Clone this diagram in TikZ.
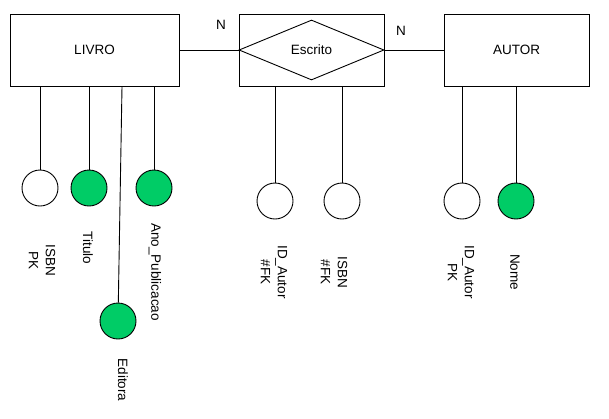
\documentclass[tikz,border=0pt]{standalone}
\usepackage{fontspec}
\setmainfont{Liberation Sans}
\usepackage{tikz}
\usetikzlibrary{shapes.geometric}
\definecolor{attrgreen}{RGB}{0,204,102}

\begin{document}
\begin{tikzpicture}[x=1pt,y=-1pt,line width=0.9pt,
  every node/.style={font=\fontsize{13.5}{17}\selectfont},
  entity/.style={shape=rectangle,minimum height=72pt,inner sep=0pt,draw},
  attrkey/.style={shape=circle,minimum size=36pt,inner sep=0pt,draw,fill=white},
  attrplain/.style={shape=circle,minimum size=36pt,inner sep=0pt,draw,fill=attrgreen},
  attrlabel/.style={rotate=-90,align=center,inner sep=0pt}]
\useasboundingbox (0,0) rectangle (609,418);
% entidades e relacionamento
\path (94.5,50) node (livro) [entity,minimum width=169pt] {LIVRO};
\path (311.5,50) node (escritobox) [entity,minimum width=145pt] {};
\path (311.5,50) node (escrito) [shape=diamond,minimum width=145pt,minimum height=60pt,inner sep=0pt,draw] {Escrito};
\path (516.5,50) node (autor) [entity,minimum width=145pt] {AUTOR};
\path (221,25) node (cardlivro) {N};
\path (401,31) node (cardautor) {N};

% atributos de LIVRO
\path (40,188) node (isbn) [attrkey] {};
\path (89,188) node (titulo) [attrplain] {};
\path (154,188) node (ano) [attrplain] {};
\path (118,321) node (editora) [attrplain] {};
\path (42,260) node (isbnlabel) [attrlabel] {ISBN\\PK};
\path (88,248) node (titulolabel) [attrlabel] {Titulo};
\path (155,272) node (anolabel) [attrlabel] {Ano\_Publicacao};
\path (123,380) node (editoralabel) [attrlabel] {Editora};

% atributos de Escrito
\path (275,201) node (escidautor) [attrkey] {};
\path (342,201) node (escisbn) [attrkey] {};
\path (274,272) node (escidautorlabel) [attrlabel] {ID\_Autor\\\#FK};
\path (334,272) node (escisbnlabel) [attrlabel] {ISBN\\\#FK};

% atributos de AUTOR
\path (462,201) node (idautor) [attrkey] {};
\path (516,201) node (nome) [attrplain] {};
\path (461,272) node (idautorlabel) [attrlabel] {ID\_Autor\\PK};
\path (515,272) node (nomelabel) [attrlabel] {Nome};

\draw (livro) to (escrito);
\draw (escrito) to (autor);
\draw (isbn) to (isbn |- livro.south);
\draw (titulo) to (titulo |- livro.south);
\draw (ano) to (ano |- livro.south);
\draw (editora) to ([xshift=4pt]editora |- livro.south);
\draw (escidautor) to (escidautor |- escritobox.south);
\draw (escisbn) to (escisbn |- escritobox.south);
\draw (idautor) to (idautor |- autor.south);
\draw (nome) to (nome |- autor.south);
\end{tikzpicture}
\end{document}
